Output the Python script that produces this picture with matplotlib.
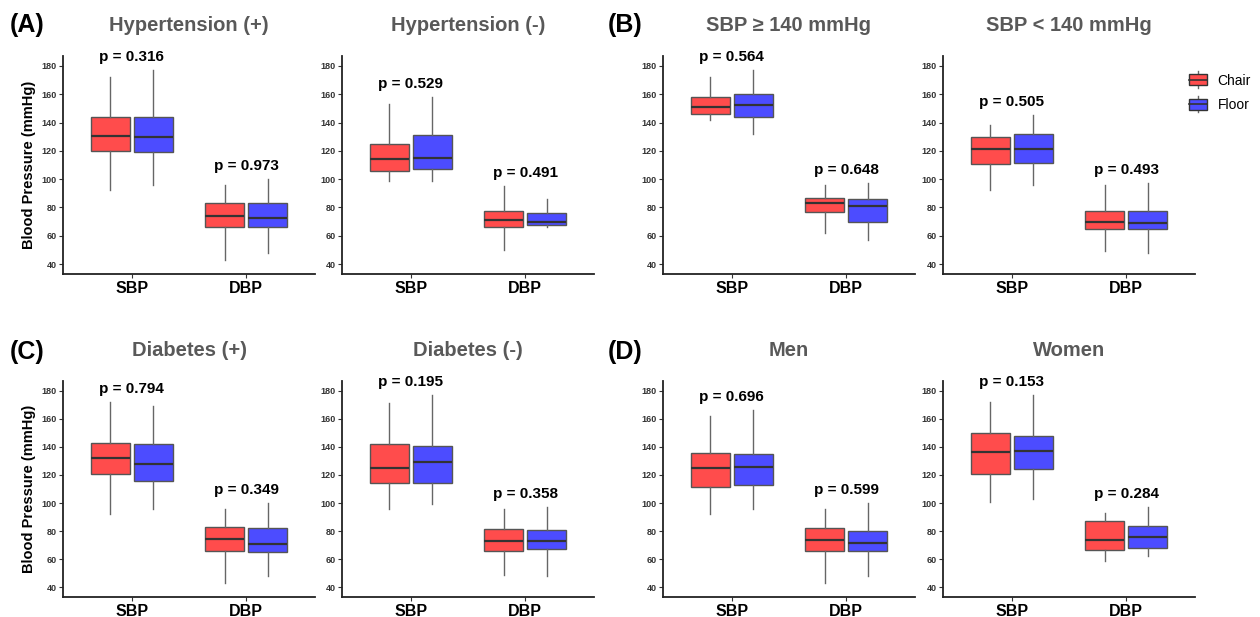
import matplotlib
matplotlib.use("Agg")
import matplotlib.pyplot as plt
from matplotlib.legend_handler import HandlerBase
from matplotlib.lines import Line2D
from matplotlib.patches import Patch, Rectangle

plt.rcParams["font.family"] = ["Liberation Sans", "DejaVu Sans"]

CHAIR_COLOR = "#FF4C4C"
FLOOR_COLOR = "#4C4CFF"
EDGE = "#555555"
TITLE_GREY = "#595959"

CATEGORIES = ["SBP", "DBP"]
TITLES = [
    "Hypertension (+)", "Hypertension (-)", "SBP \u2265 140 mmHg", "SBP < 140 mmHg",
    "Diabetes (+)", "Diabetes (-)", "Men", "Women",
]
PANEL_LABELS = ["(A)", "(B)", "(C)", "(D)"]

P_SBP = ["0.316", "0.529", "0.564", "0.505", "0.794", "0.195", "0.696", "0.153"]
P_DBP = ["0.973", "0.491", "0.648", "0.493", "0.349", "0.358", "0.599", "0.284"]

# five-number summaries (whisker low, Q1, median, Q3, whisker high) for SBP then DBP
HTN_POS_CHAIR = [(92, 120, 130.3, 144, 172), (43, 66, 73.8, 83, 96)]
HTN_POS_FLOOR = [(96, 119, 129.9, 144, 177), (48, 66, 72.4, 83, 100)]
HTN_NEG_CHAIR = [(99, 106, 114, 125, 153), (50, 66, 70.8, 77.4, 95)]
HTN_NEG_FLOOR = [(99, 107, 114.7, 131, 158), (66, 67.7, 69.8, 76.4, 86)]
SBP_HI_CHAIR = [(142, 146, 151, 158, 172), (62, 77, 83, 86.6, 96)]
SBP_HI_FLOOR = [(132, 144, 152.6, 160, 177), (57, 70, 81, 86, 97)]
SBP_LO_CHAIR = [(92, 110.5, 121, 130, 138), (49, 65, 70, 77.6, 96)]
SBP_LO_FLOOR = [(96, 111.7, 121, 132, 145), (48, 65, 69, 77.6, 97)]
DM_POS_CHAIR = [(92, 121, 132, 143, 172), (43, 66, 74, 83, 96)]
DM_POS_FLOOR = [(96, 115.4, 128, 142, 169), (48, 65, 71, 82, 100)]
DM_NEG_CHAIR = [(96, 114, 125, 142, 171), (49, 66, 73, 81.2, 96)]
DM_NEG_FLOOR = [(99, 114.5, 129, 141, 177), (48, 67, 73, 81, 97)]
MEN_CHAIR = [(92, 111.7, 125.3, 135.7, 162), (43, 66, 73.5, 82, 96)]
MEN_FLOOR = [(96, 113, 126, 135, 166), (48, 66, 71.4, 80, 100)]
WOMEN_CHAIR = [(101, 121, 136.4, 150, 172), (59, 66.4, 73.5, 87, 93)]
WOMEN_FLOOR = [(103, 124, 137, 148, 177), (62, 68, 76, 83.4, 97)]

CHAIR = [HTN_POS_CHAIR, HTN_NEG_CHAIR, SBP_HI_CHAIR, SBP_LO_CHAIR,
         DM_POS_CHAIR, DM_NEG_CHAIR, MEN_CHAIR, WOMEN_CHAIR]
FLOOR = [HTN_POS_FLOOR, HTN_NEG_FLOOR, SBP_HI_FLOOR, SBP_LO_FLOOR,
         DM_POS_FLOOR, DM_NEG_FLOOR, MEN_FLOOR, WOMEN_FLOOR]

W, H = 1260, 617
COL_LEFT = [63, 342, 663, 943]
AX_W = 252
ROW_TOP = [56, 381]
ROW_BOTTOM = [274, 597]


class BoxKeyHandler(HandlerBase):
    def create_artists(self, legend, orig_handle, xdescent, ydescent, width, height, fontsize, trans):
        x0, y0 = -xdescent, -ydescent
        cx = x0 + width / 2
        whisker = Line2D([cx, cx], [y0 - 0.25 * height, y0 + 1.25 * height], color="#666666", lw=1.0, transform=trans)
        rect = Rectangle((x0, y0), width, height, facecolor=orig_handle.get_facecolor(),
                         edgecolor="#333333", lw=1.0, transform=trans)
        med = Line2D([x0, x0 + width], [y0 + height / 2] * 2, color="#333333", lw=1.2, transform=trans)
        return [whisker, rect, med]


def to_stats(five):
    lo, q1, med, q3, hi = five
    return {"whislo": lo, "q1": q1, "med": med, "q3": q3, "whishi": hi, "fliers": []}


def draw_panel(ax, idx):
    positions = [1, 2]
    offset = 0.1875
    width = 0.3375
    for groups, shift, color in ((CHAIR[idx], -offset, CHAIR_COLOR), (FLOOR[idx], offset, FLOOR_COLOR)):
        ax.bxp(
            [to_stats(g) for g in groups],
            positions=[p + shift for p in positions],
            widths=width,
            showcaps=False,
            showfliers=False,
            patch_artist=True,
            boxprops=dict(facecolor=color, edgecolor=EDGE, linewidth=1.0),
            whiskerprops=dict(color="#666666", linewidth=1.0),
            medianprops=dict(color="#333333", linewidth=1.6),
            manage_ticks=False,
        )
    for pos, pval, cat in zip(positions, (P_SBP[idx], P_DBP[idx]), range(2)):
        top = max(CHAIR[idx][cat][4], FLOOR[idx][cat][4])
        ax.text(pos, top + 9.5, f"p = {pval}", ha="center", va="center",
                fontsize=11, fontweight="bold", color="black")

    ax.set_xlim(0.4, 2.6)
    ax.set_ylim(33, 187)
    ax.set_xticks(positions)
    ax.set_xticklabels(CATEGORIES, fontsize=11.5, fontweight="bold", color="black")
    ax.set_yticks(range(40, 181, 20))
    ax.tick_params(axis="y", labelsize=6.5, length=3, width=0.8, color="#333333", labelcolor="#333333", pad=1.5)
    ax.tick_params(axis="x", length=3, width=0.8, color="#333333", pad=2)
    for label in ax.get_yticklabels():
        label.set_fontweight("bold")
    for side in ("top", "right"):
        ax.spines[side].set_visible(False)
    for side in ("left", "bottom"):
        ax.spines[side].set_color("#222222")
        ax.spines[side].set_linewidth(1.3)
    ax.text(0.5, 1.142, TITLES[idx], transform=ax.transAxes, ha="center", va="center",
            fontsize=14.5, fontweight="bold", color=TITLE_GREY)


def main() -> None:
    fig = plt.figure(figsize=(W / 100, H / 100), dpi=100, facecolor="white")
    axes = []
    for row in range(2):
        for col in range(4):
            left = COL_LEFT[col] / W
            bottom = (H - ROW_BOTTOM[row]) / H
            height = (ROW_BOTTOM[row] - ROW_TOP[row]) / H
            ax = fig.add_axes([left, bottom, AX_W / W, height])
            draw_panel(ax, row * 4 + col)
            axes.append(ax)

    for ax in (axes[0], axes[4]):
        ax.set_ylabel("Blood Pressure (mmHg)", fontsize=10.5, fontweight="bold", labelpad=4)

    label_pos = [(27, 25), (625, 25), (27, 352), (625, 352)]
    for text, (x, y) in zip(PANEL_LABELS, label_pos):
        fig.text(x / W, (H - y) / H, text, ha="center", va="center", fontsize=18, fontweight="bold")

    handles = [Patch(facecolor=CHAIR_COLOR), Patch(facecolor=FLOOR_COLOR)]
    fig.legend(handles, ["Chair", "Floor"], loc="upper left",
               bbox_to_anchor=(1183 / W, (H - 68) / H), frameon=False, fontsize=10,
               handler_map={Patch: BoxKeyHandler()}, handlelength=1.3, handleheight=0.85,
               handletextpad=0.8, labelspacing=0.75, borderaxespad=0)

    fig.savefig("out.png", dpi=100, facecolor="white")
    plt.close(fig)


if __name__ == "__main__":
    main()
